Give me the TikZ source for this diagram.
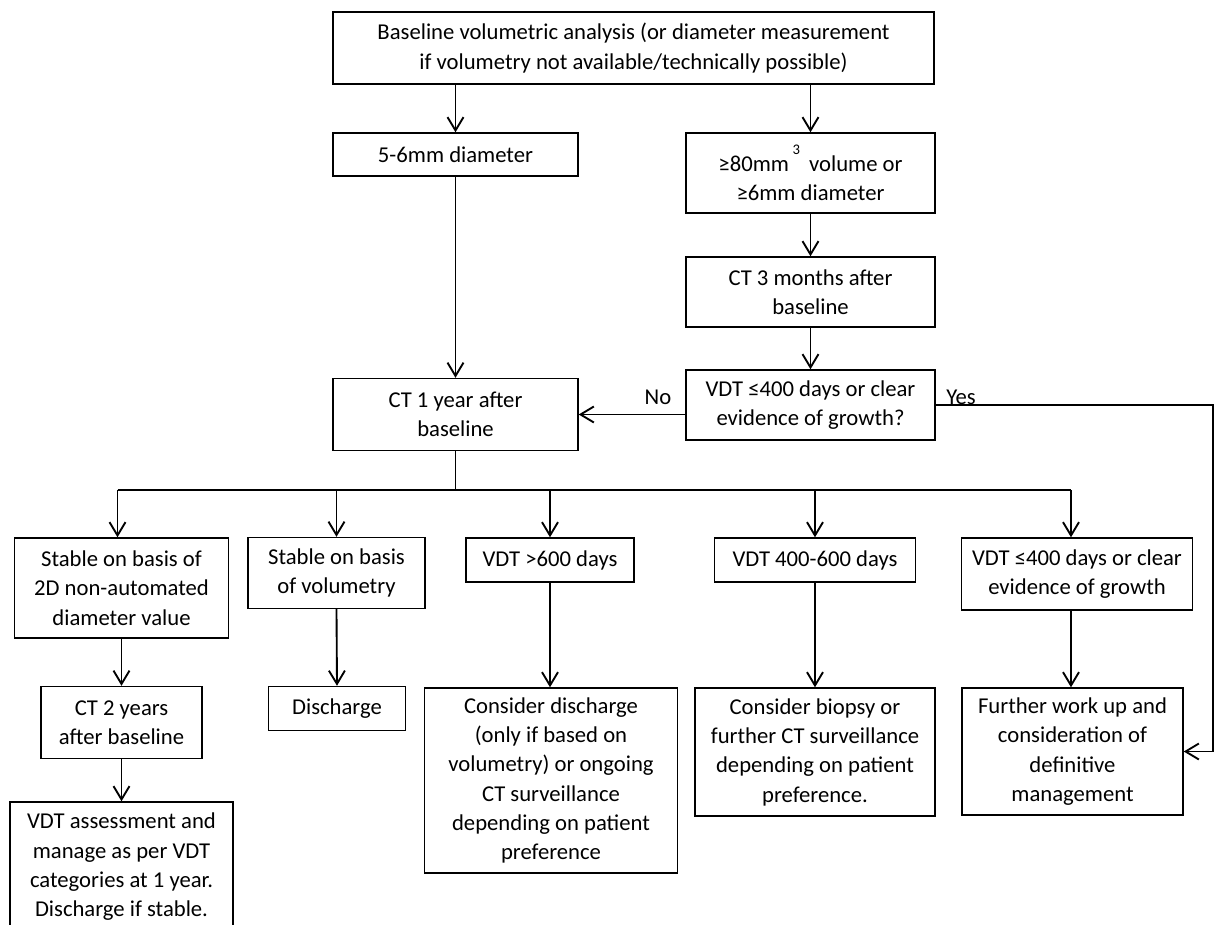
\documentclass[tikz,border=0pt]{standalone}
\usepackage{fontspec}
\setmainfont{Carlito}
\usetikzlibrary{arrows.meta}
\begin{document}
\begin{tikzpicture}[x=0.75pt,y=-0.75pt,
  box/.style={draw, line width=1.1pt, align=center, inner sep=0pt, font=\fontsize{17pt}{22pt}\selectfont},
  sz/.style 2 args={minimum width=#1*0.75pt, minimum height=#2*0.75pt},
  arr/.style={line width=1.4pt, -{Straight Barb[length=10pt,width=12pt]}},
  ln/.style={line width=1.4pt},
  lbl/.style={font=\fontsize{17pt}{22pt}\selectfont, inner sep=0pt}]
\clip (0,0) rectangle (1215,925);
\node[box, sz={601}{72}] (top) at (633.5,48) {Baseline volumetric analysis (or diameter measurement\\if volumetry not available/technically possible)};
\node[box, sz={245}{43}] (d56) at (455.5,154.5) {5-6mm diameter};
\node[box, sz={249}{80}] (v80) at (810.5,173) {≥80mm\,\raisebox{0.75em}{\fontsize{11pt}{11pt}\selectfont 3}\, volume or\\≥6mm diameter};
\node[box, sz={249}{70}] (ct3) at (810.5,292) {CT 3 months after\\baseline};
\node[box, sz={249}{70}] (vdtq) at (810.5,405) {VDT ≤400 days or clear\\evidence of growth?};
\node[box, sz={245}{72}] (ct1) at (455.5,414.5) {CT 1 year after\\baseline};
\node[box, sz={214}{100}] (s2d) at (121.5,588) {Stable on basis of\\2D non-automated\\diameter value};
\node[box, sz={177}{71}] (svol) at (336.5,573) {Stable on basis\\of volumetry};
\node[box, sz={168}{44}] (v600) at (550,560) {VDT >600 days};
\node[box, sz={201}{44}] (v4060) at (815,560) {VDT 400-600 days};
\node[box, sz={231}{72}] (v400) at (1077,574) {VDT ≤400 days or clear\\evidence of growth};
\node[box, sz={161}{72}] (ct2) at (121.5,722.5) {CT 2 years\\after baseline};
\node[box, sz={137}{44}] (disch) at (337,708.5) {Discharge};
\node[box, sz={253}{185}] (consd) at (551,780.5) {Consider discharge\\(only if based on\\volumetry) or ongoing\\CT surveillance\\depending on patient\\preference};
\node[box, sz={240}{128}] (biop) at (815,752) {Consider biopsy or\\further CT surveillance\\depending on patient\\preference.};
\node[box, sz={221}{127}] (furth) at (1072.5,751.5) {Further work up and\\consideration of\\definitive\\management};
\node[box, sz={223}{130}] (vass) at (121.5,867) {VDT assessment and\\manage as per VDT\\categories at 1 year.\\Discharge if stable.};
\coordinate (bus) at (455.5,490);
\coordinate (ycorner) at (1213,405);
\draw[arr] (top.south -| d56.north) -- (d56.north);
\draw[arr] (top.south -| v80.north) -- (v80.north);
\draw[arr] (v80.south) -- (ct3.north);
\draw[arr] (ct3.south) -- (vdtq.north);
\draw[arr] (d56.south) -- (ct1.north);
\draw[arr] (vdtq.west |- ct1.east) -- (ct1.east);
\node[lbl, anchor=base] (no) at (658,404) {No};
\draw[arr] (vdtq.east) -- (ycorner) |- (furth.east);
\node[lbl, anchor=base west] (yes) at (946,404) {Yes};
\draw[ln] (ct1.south) -- (bus);
\draw[ln] ([xshift=-3pt]s2d.north |- bus) -- ([xshift=-4.5pt]v400.north |- bus);
\draw[arr] ([xshift=-3pt]s2d.north |- bus) -- ([xshift=-3pt]s2d.north);
\draw[arr] (svol.north |- bus) -- (svol.north);
\draw[arr] (v600.north |- bus) -- (v600.north);
\draw[arr] (v4060.north |- bus) -- (v4060.north);
\draw[arr] ([xshift=-4.5pt]v400.north |- bus) -- ([xshift=-4.5pt]v400.north);
\draw[arr] (s2d.south) -- (ct2.north);
\draw[arr] (ct2.south) -- (vass.north);
\draw[arr] (svol.south) -- (disch.north);
\draw[arr] (v600.south) -- (v600.south |- consd.north);
\draw[arr] (v4060.south) -- (v4060.south |- biop.north);
\draw[arr] ([xshift=-4.5pt]v400.south) -- ([xshift=-4.5pt]v400.south |- furth.north);
\end{tikzpicture}
\end{document}
